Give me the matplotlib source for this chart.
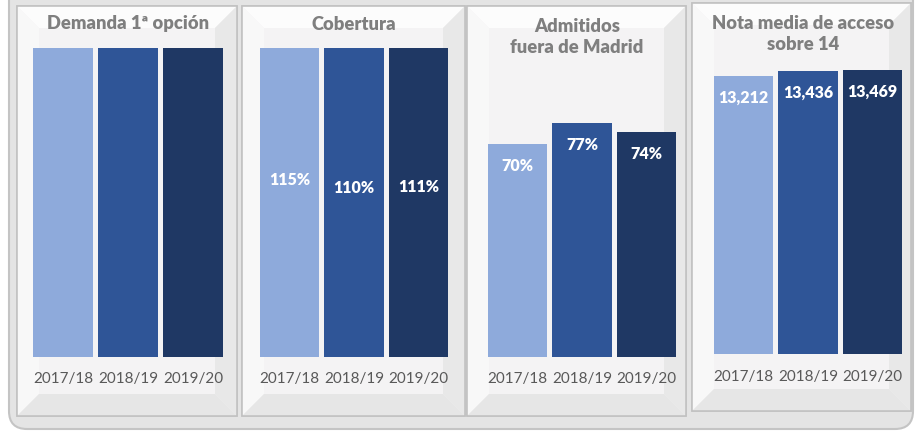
import matplotlib
matplotlib.use('Agg')
import matplotlib.pyplot as plt
from matplotlib.patches import FancyBboxPatch, Rectangle, Polygon

plt.rcParams['font.family'] = ['Lato', 'DejaVu Sans']

# Data
years = ['2017/18', '2018/19', '2019/20']
demanda = [1.0, 1.0, 1.0]           # bars reach the top of the axis (clipped)
cobertura = [1.15, 1.10, 1.11]
fuera_madrid = [0.70, 0.77, 0.74]
nota_media = [13.212, 13.436, 13.469]

colours = ['#8eaadb', '#2f5597', '#1f3864']
W, H = 917, 435

fig = plt.figure(figsize=(W / 100, H / 100), dpi=100)
fig.patch.set_facecolor('white')

# Background canvas in pixel coordinates
bg = fig.add_axes([0, 0, 1, 1])
bg.set_xlim(0, W)
bg.set_ylim(H, 0)
bg.axis('off')

bg.add_patch(FancyBboxPatch((9, -20), 904, 450, boxstyle='round,pad=0,rounding_size=18',
                            facecolor='#e4e4e4', edgecolor='#c4c4c4', lw=1.5))


def panel(x0, y0, x1, y1, b=22):
    bg.add_patch(Rectangle((x0, y0), x1 - x0, y1 - y0, facecolor='#f4f3f4',
                           edgecolor='#c8c8c8', lw=1.2))
    # bevel edges
    bg.add_patch(Polygon([(x0, y0), (x1, y0), (x1 - b, y0 + b), (x0 + b, y0 + b)],
                         facecolor='#fcfcfc', edgecolor='none'))
    bg.add_patch(Polygon([(x0, y0), (x0 + b, y0 + b), (x0 + b, y1 - b), (x0, y1)],
                         facecolor='#f8f8f8', edgecolor='none'))
    bg.add_patch(Polygon([(x1, y0), (x1 - b, y0 + b), (x1 - b, y1 - b), (x1, y1)],
                         facecolor='#e8e8e8', edgecolor='none'))
    bg.add_patch(Polygon([(x0, y1), (x0 + b, y1 - b), (x1 - b, y1 - b), (x1, y1)],
                         facecolor='#e6e6e6', edgecolor='none'))
    bg.add_patch(Rectangle((x0, y0), x1 - x0, y1 - y0, facecolor='none',
                           edgecolor='#c2c2c2', lw=1.2))


panels = [(17, 7, 237, 417), (242, 7, 465, 417), (467, 7, 686, 417), (692, 4, 911, 412)]
for p in panels:
    panel(*p)

titles = [('Demanda 1ª opción', 128, 24), ('Cobertura', 354, 25),
          ('Admitidos\nfuera de Madrid', 577, 37), ('Nota media de acceso\nsobre 14', 803, 34)]
for t, x, y in titles:
    bg.text(x, y, t, ha='center', va='center', fontsize=13.2, fontweight='heavy',
            color='#7f7f7f', linespacing=1.3)


def make_axes(left, right, top, bottom):
    return fig.add_axes([left / W, 1 - bottom / H, (right - left) / W, (bottom - top) / H])


def bar_panel(ax, values, ymax, labels=None, centre=False, pad=10):
    ax.bar(range(3), values, width=0.92, color=colours)
    ax.set_xlim(-0.5, 2.5)
    ax.set_ylim(0, ymax)
    for s in ax.spines.values():
        s.set_visible(False)
    ax.patch.set_alpha(0)
    ax.set_yticks([])
    ax.set_xticks(range(3))
    ax.set_xticklabels(years, fontsize=11, color='#595959')
    ax.tick_params(axis='x', length=0, pad=pad)
    if labels:
        for i, (v, lab) in enumerate(zip(values, labels)):
            if centre:
                ax.text(i, v / 2, lab, ha='center', va='center', color='white',
                        fontsize=11.5, fontweight='heavy')
            else:
                ax.annotate(lab, (i, v), xytext=(0, -15), textcoords='offset points',
                            ha='center', va='center', color='white',
                            fontsize=11.5, fontweight='heavy')


ax1 = make_axes(30.5, 225.5, 49, 358)
bar_panel(ax1, demanda, 1.0)

ax2 = make_axes(257, 451, 49, 358)
bar_panel(ax2, cobertura, 1.0, ['{:.0f}%'.format(v * 100) for v in cobertura], centre=True)

ax3 = make_axes(485, 679, 54, 358)
bar_panel(ax3, fuera_madrid, 1.0, ['{:.0f}%'.format(v * 100) for v in fuera_madrid])

ax4 = make_axes(711, 905, 60, 355)
bar_panel(ax4, nota_media, 14, ['{:.3f}'.format(v).replace('.', ',') for v in nota_media], pad=11)

fig.savefig('out.png', dpi=100, facecolor=fig.get_facecolor())
